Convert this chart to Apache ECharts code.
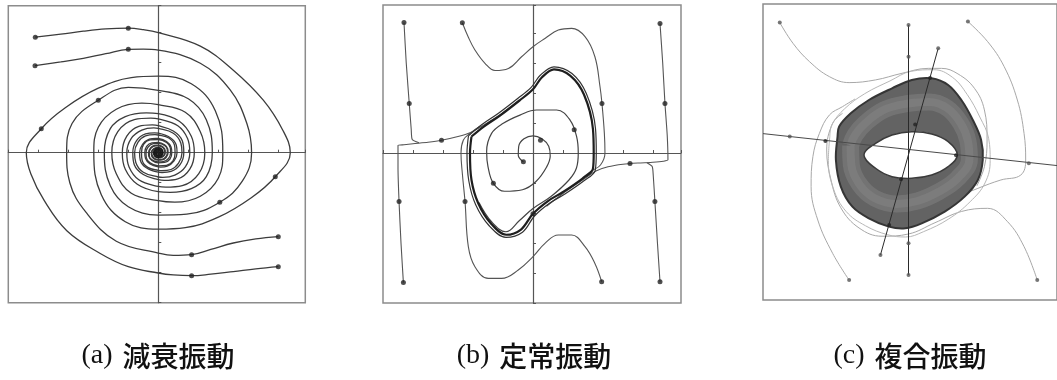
<!DOCTYPE html>
<html>
<head>
<meta charset="utf-8">
<script src="https://cdn.jsdelivr.net/npm/echarts@6/dist/echarts.min.js"></script>
<style>
html,body{margin:0;padding:0;background:#fff;}
#chart{width:1057px;height:380px;}
</style>
</head>
<body>
<div id="chart"></div>
<script>
// ---------- (a) damped oscillation: four trajectories spiralling into a stable focus
const dampedT1 = [[-8.2,7.7],[-6.5,7.9],[-5.0,8.1],[-3.5,8.25],[-2.0,8.3],[-1.0,8.2],[0,8.0],[2.8,7.1],[5.0,5.5],[7.0,3.5],[8.3,1.5],[8.8,0],[7.8,-1.6],[6.2,-3.0],[4.0,-4.3],[1.8,-5.0],[0,-5.1],[-2.2,-4.6],[-3.8,-2.8],[-4.3,0],[-4.0,1.7],[-2.8,2.9],[-1.1,3.3],[0,3.2],[1.8,2.7],[2.8,1.4],[3.1,0],[2.7,-1.4],[1.6,-2.2],[0.5,-2.3],[0,-2.25],[-1.3,-1.8],[-1.95,-0.95],[-2.1,0],[-1.8,0.95],[-1.1,1.5],[-0.3,1.65],[0,1.62],[1.0,1.3],[1.5,0.65],[1.58,0],[1.35,-0.7],[0.85,-1.12],[0.22,-1.2],[0,-1.18],[-0.7,-0.98],[-1.08,-0.5],[-1.12,0],[-0.98,0.55],[-0.55,0.85],[0,0.88],[0.55,0.68],[0.8,0.32],[0.82,0],[0.68,-0.38],[0.33,-0.6],[0,-0.62],[-0.42,-0.48],[-0.6,-0.2],[-0.6,0],[-0.48,0.3],[-0.22,0.45],[0,0.46],[0.32,0.32],[0.44,0],[0.3,-0.24],[0,-0.32],[-0.22,-0.22],[-0.27,0],[-0.17,0.16],[0,0.2],[0.12,0.1],[0.08,-0.05]];
const dampedT2 = [[-8.22,5.8],[-6.5,6.05],[-5.0,6.29],[-3.5,6.6],[-2.0,6.89],[-1.0,6.9],[0,6.84],[2.8,5.96],[4.78,4.2],[5.9,1.96],[6.22,0],[5.6,-1.9],[4.1,-3.3],[1.9,-4.1],[0,-4.16],[-2.0,-3.6],[-3.2,-2.2],[-3.6,0],[-3.2,1.6],[-2.2,2.4],[-0.8,2.65],[0,2.6],[1.4,2.1],[2.2,1.1],[2.4,0],[2.1,-1.1],[1.3,-1.75],[0.4,-1.85],[0,-1.8],[-1.0,-1.45],[-1.6,-0.8],[-1.7,0],[-1.45,0.8],[-0.85,1.25],[-0.25,1.32],[0,1.3],[0.8,1.0],[1.2,0.5],[1.25,0],[1.05,-0.55],[0.6,-0.9],[0.15,-0.96],[0,-0.95],[-0.55,-0.75],[-0.85,-0.38],[-0.9,0],[-0.78,0.42],[-0.42,0.65],[0,0.68],[0.42,0.52],[0.63,0.25],[0.65,0],[0.52,-0.32],[0.25,-0.48],[0,-0.5],[-0.32,-0.38],[-0.46,-0.15],[-0.46,0],[-0.36,0.22],[-0.15,0.34],[0,0.35],[0.22,0.24],[0.3,0],[0.2,-0.18],[0,-0.24],[-0.15,-0.15],[-0.18,0],[-0.1,0.1],[0,0.1]];
const dampedT3 = [[8.0,-5.6],[6.5,-5.75],[5.0,-6.02],[3.5,-6.45],[2.22,-6.8],[1.0,-6.85],[0,-6.69],[-2.8,-5.9],[-4.8,-4.0],[-5.9,-2.0],[-6.11,0],[-5.75,1.95],[-4.0,3.5],[-2.0,4.35],[0,4.16],[2.0,3.6],[3.2,2.2],[3.6,0],[3.2,-1.6],[2.2,-2.4],[0.8,-2.65],[0,-2.6],[-1.4,-2.1],[-2.2,-1.1],[-2.4,0],[-2.1,1.1],[-1.3,1.75],[-0.4,1.85],[0,1.8],[1.0,1.45],[1.6,0.8],[1.7,0],[1.45,-0.8],[0.85,-1.25],[0.25,-1.32],[0,-1.3],[-0.8,-1.0],[-1.2,-0.5],[-1.25,0],[-1.05,0.55],[-0.6,0.9],[-0.15,0.96],[0,0.95],[0.55,0.75],[0.85,0.38],[0.9,0],[0.78,-0.42],[0.42,-0.65],[0,-0.68],[-0.42,-0.52],[-0.63,-0.25],[-0.65,0],[-0.52,0.32],[-0.25,0.48],[0,0.5],[0.32,0.38],[0.46,0.15],[0.46,0],[0.36,-0.22],[0.15,-0.34],[0,-0.35],[-0.22,-0.24],[-0.3,0],[-0.2,0.18],[0,0.24],[0.15,0.15],[0.18,0],[0.1,-0.1],[0,-0.1]];
const dampedT4 = [[8.0,-7.6],[6.5,-7.75],[5.0,-7.93],[3.5,-8.1],[2.22,-8.2],[1.0,-8.15],[0,-8.02],[-2.0,-7.6],[-3.9,-6.7],[-6.1,-5.2],[-7.6,-3.2],[-8.5,-1.4],[-8.8,0],[-7.8,1.6],[-6.2,3.0],[-4.0,4.3],[-1.8,5.0],[0,5.1],[2.2,4.6],[3.8,2.8],[4.3,0],[4.0,-1.7],[2.8,-2.9],[1.1,-3.3],[0,-3.2],[-1.8,-2.7],[-2.8,-1.4],[-3.1,0],[-2.7,1.4],[-1.6,2.2],[-0.5,2.3],[0,2.25],[1.3,1.8],[1.95,0.95],[2.1,0],[1.8,-0.95],[1.1,-1.5],[0.3,-1.65],[0,-1.62],[-1.0,-1.3],[-1.5,-0.65],[-1.58,0],[-1.35,0.7],[-0.85,1.12],[-0.22,1.2],[0,1.18],[0.7,0.98],[1.08,0.5],[1.12,0],[0.98,-0.55],[0.55,-0.85],[0,-0.88],[-0.55,-0.68],[-0.8,-0.32],[-0.82,0],[-0.68,0.38],[-0.33,0.6],[0,0.62],[0.42,0.48],[0.6,0.2],[0.6,0],[0.48,-0.3],[0.22,-0.45],[0,-0.46],[-0.32,-0.32],[-0.44,0],[-0.3,0.24],[0,0.32],[0.22,0.22],[0.27,0],[0.17,-0.16],[0,-0.2],[-0.12,-0.1],[-0.08,0.05]];
const dampedMarks = [[-8.2,7.7],[-8.22,5.8],[8.0,-5.6],[8.0,-7.6],[-2.0,8.3],[-2.0,6.89],[2.22,-6.8],[2.22,-8.2],[-7.8,1.6],[-4.0,3.5],[7.8,-1.6],[4.1,-3.3]];
const dampedFocus = [[0,0]];

// ---------- (b) steady oscillation: limit cycle with trajectories from inside and outside
const limitCycle = [[-4.1,1.1],[-4.2,0],[-4.1,-1.8],[-3.65,-3.35],[-2.8,-4.7],[-1.78,-5.45],[-0.8,-5.1],[0,-4.05],[1.0,-3.2],[2.0,-2.6],[3.3,-1.7],[4.0,-1.05],[4.05,0],[4.0,1.6],[3.4,3.9],[2.5,5.15],[1.4,5.58],[0.6,5.05],[0,4.25],[-0.9,3.5],[-2.2,2.5],[-3.3,1.75],[-4.1,1.1]];
const limitCycleOuter = [[-4.3,1.15],[-4.4,0],[-4.28,-1.85],[-3.82,-3.45],[-2.92,-4.85],[-1.8,-5.62],[-0.7,-5.28],[0.1,-4.2],[1.1,-3.35],[2.1,-2.75],[3.4,-1.85],[4.15,-1.15],[4.22,0],[4.17,1.62],[3.55,3.98],[2.6,5.3],[1.4,5.75],[0.5,5.2],[-0.12,4.38],[-1.0,3.65],[-2.3,2.65],[-3.4,1.9],[-4.3,1.15]];
const steadyInner = [[-0.64,-0.58],[-0.98,-0.15],[-0.95,0.45],[-0.6,0.95],[0,1.15],[0.6,0.95],[1.05,0.45],[1.15,-0.2],[0.9,-0.95],[0.2,-1.9],[-0.7,-2.45],[-1.9,-2.55],[-2.64,-2.02],[-3.0,-0.9],[-3.09,0.1],[-2.76,1.31],[-1.98,1.98],[-0.87,2.53],[0.24,2.87],[1.58,2.87],[2.47,2.2],[2.91,1.09],[3.02,0],[2.9,-1.0],[2.4,-1.8],[1.2,-2.9],[0,-3.7],[-0.9,-4.5],[-1.8,-5.25],[-2.75,-4.6],[-3.6,-3.3]];
const steadyTopLeft = [[-8.6,8.7],[-8.45,6.0],[-8.25,3.3],[-8.12,1.6],[-8.05,0.9],[-7.6,0.68]];
const steadyBottomLeft = [[-8.64,-8.64],[-8.8,-6.0],[-8.93,-3.24],[-9.0,-1.0],[-9.0,0.5],[-8.6,0.55],[-8.0,0.62],[-7.0,0.72],[-6.1,0.85],[-5.0,1.1],[-4.2,1.35],[-3.3,1.85],[-2.2,2.55],[-0.9,3.55]];
const steadyTopRight = [[8.47,8.64],[8.65,6.0],[8.8,3.31],[8.95,1.2],[9.0,-0.45],[8.69,-0.55],[8.0,-0.62],[7.0,-0.67],[6.0,-0.75],[5.0,-0.92],[4.2,-1.2],[3.3,-1.8],[2.2,-2.55],[0.9,-3.55]];
const steadyBottomRight = [[8.47,-8.58],[8.3,-6.0],[8.13,-3.24],[8.02,-1.5],[7.95,-0.9],[7.6,-0.65]];
const steadyUpperS = [[-4.71,8.69],[-4.3,7.7],[-3.87,6.87],[-3.2,5.98],[-2.53,5.5],[-1.64,5.64],[-0.76,6.42],[0,7.09],[0.8,7.64],[1.69,8.2],[2.58,8.31],[3.47,7.76],[4.13,6.42],[4.47,4.42],[4.6,3.31],[4.76,1.31],[4.8,0],[4.5,-0.8],[3.9,-1.2],[3.3,-1.65]];
const steadyLowerS = [[4.58,-8.58],[4.13,-7.36],[3.47,-6.24],[2.58,-5.47],[1.69,-5.47],[0.8,-6.02],[0,-6.91],[-0.98,-7.8],[-2.09,-8.36],[-2.98,-8.36],[-3.87,-7.58],[-4.31,-6.24],[-4.53,-3.24],[-4.71,-1.36],[-4.8,0],[-4.64,0.87],[-4.2,1.31],[-3.5,1.8]];
const steadyMarks = [[-8.6,8.7],[-4.71,8.69],[8.47,8.64],[-8.64,-8.64],[4.58,-8.58],[8.47,-8.58],[-8.25,3.3],[-8.93,-3.24],[-6.1,0.85],[8.8,3.31],[8.13,-3.24],[6.47,-0.7],[4.6,3.31],[-4.53,-3.24],[-0.64,-0.58],[0.5,0.85],[2.75,1.55],[-2.64,-2.02],[0,-4.05]];

// ---------- (c) compound oscillation: trajectories winding onto a torus
const torusOuter = [[-4.78,0.89],[-4.89,-0.67],[-4.56,-2.44],[-3.78,-3.78],[-2.67,-4.56],[-1.33,-5.11],[-0.22,-5.22],[0.89,-4.89],[2.44,-4.11],[3.78,-3.11],[4.67,-2.0],[5.0,-0.67],[4.89,0.67],[4.33,2.0],[3.56,3.33],[2.67,4.33],[1.56,4.78],[0.22,4.67],[-1.11,4.11],[-2.67,3.33],[-3.89,2.44],[-4.67,1.56]];
const torusInner = [[-3.0,-0.33],[-2.22,0.44],[-1.11,1.0],[0.22,1.22],[1.56,1.07],[2.67,0.56],[3.29,-0.33],[2.67,-1.11],[1.56,-1.67],[0.22,-1.89],[-1.11,-1.78],[-2.22,-1.22]];
const torusSheen = [[-3.9,0.3],[-3.85,-1.0],[-3.3,-2.3],[-2.3,-3.2],[-0.8,-3.6],[0.6,-3.4],[2.0,-2.8],[3.3,-1.9],[4.1,-0.6],[4.0,0.6],[3.5,1.8],[2.6,2.8],[1.4,3.2],[0,3.1],[-1.6,2.7],[-2.9,1.8],[-3.6,1.0],[-3.9,0.3]];
const torusWrap = [[-5.3,0.9],[-5.4,-0.7],[-5.05,-2.6],[-4.2,-4.1],[-2.9,-5.05],[-1.4,-5.65],[-0.2,-5.8],[1.0,-5.45],[2.7,-4.6],[4.15,-3.45],[5.15,-2.2],[5.5,-0.7],[5.4,0.75],[4.8,2.2],[3.95,3.7],[2.95,4.85],[1.7,5.35],[0.2,5.25],[-1.25,4.6],[-2.95,3.75],[-4.3,2.75],[-5.15,1.7],[-5.3,0.9]];
const compoundTopLeft = [[-8.67,8.49],[-7.78,7.11],[-6.67,5.89],[-5.33,4.89],[-4.0,4.49],[-2.22,4.67],[-0.44,5.11],[1.33,5.44],[2.22,5.44],[3.33,5.07],[4.44,4.11],[5.11,2.67],[5.29,0.67],[5.11,-1.11],[4.6,-2.4]];
const compoundTopRight = [[4.0,8.56],[5.33,7.22],[6.44,5.56],[7.33,3.33],[7.78,1.11],[7.89,-0.67],[7.56,-1.67],[6.22,-2.0],[4.67,-2.56],[2.89,-3.33],[1.5,-4.3]];
const compoundBottomLeft = [[-4.0,-8.67],[-5.11,-6.89],[-6.11,-4.67],[-6.56,-2.44],[-6.44,-0.44],[-6.0,1.11],[-5.33,2.33],[-4.44,2.89],[-3.6,3.4]];
const compoundBottomRight = [[8.67,-8.67],[7.78,-6.44],[6.67,-4.78],[5.33,-3.89],[3.56,-4.1],[1.78,-4.85],[0,-5.6],[-1.78,-5.75],[-3.33,-5.2],[-4.56,-3.85],[-5.22,-2.0],[-5.51,0],[-5.11,1.78],[-4.44,2.44]];
const compoundAxisV = [[0,8.33],[0,-8.33]];
const compoundAxisH = [[-9.8,1.09],[10,-1.04]];
const compoundAxisS = [[-1.89,-7.0],[2.0,6.78]];
const compoundMarks = [[-8.67,8.49],[4.0,8.56],[-4.0,-8.67],[8.67,-8.67],[0,8.33],[0,6.22],[0,-6.22],[0,-8.33],[-8.0,0.89],[8.1,-0.89],[2.0,6.78],[-1.89,-7.0]];
const compoundEdgeMarks = [[0.45,1.7],[-0.5,-1.95],[-1.3,-5.0],[1.45,4.8],[3.2,-0.35],[-5.6,0.6]];

// ---------- captions
const captionTags = ['(a)', '(b)', '(c)'];
const captionNames = ['減衰振動', '定常振動', '複合振動'];
const captionX = [158, 534, 910];

function curve(data, gi, color, width, smooth, z) {
  return {
    type: 'line', xAxisIndex: gi, yAxisIndex: gi, data: data,
    showSymbol: false, smooth: smooth, z: z || 2, silent: true,
    lineStyle: { color: color, width: width }
  };
}
function marks(data, gi, size, color, z) {
  return {
    type: 'scatter', xAxisIndex: gi, yAxisIndex: gi, data: data,
    symbolSize: size, z: z || 6, silent: true,
    itemStyle: { color: color }
  };
}
function axisPair(min, max, showLine) {
  return {
    type: 'value', min: min, max: max, interval: 2,
    axisLine: { show: showLine, onZero: true, lineStyle: { color: '#555', width: 1.2 } },
    axisTick: { show: showLine, length: 3, inside: true, lineStyle: { color: '#555' } },
    axisLabel: { show: false }, splitLine: { show: false }
  };
}

const gridBox = { show: true, borderColor: '#8c8c8c', borderWidth: 1.5, backgroundColor: 'transparent' };

const option = {
  animation: false,
  backgroundColor: '#ffffff',
  grid: [
    Object.assign({ left: 8.3, top: 5.7, width: 297, height: 297 }, gridBox),
    Object.assign({ left: 383, top: 5, width: 298, height: 298 }, gridBox),
    Object.assign({ left: 763, top: 4, width: 297, height: 296 }, gridBox)
  ],
  xAxis: [
    Object.assign({ gridIndex: 0 }, axisPair(-10, 9.8, true)),
    Object.assign({ gridIndex: 1 }, axisPair(-10, 9.87, true)),
    Object.assign({ gridIndex: 2 }, axisPair(-9.8, 10, false))
  ],
  yAxis: [
    Object.assign({ gridIndex: 0 }, axisPair(-10, 9.8, true)),
    Object.assign({ gridIndex: 1 }, axisPair(-10, 9.87, true)),
    Object.assign({ gridIndex: 2 }, axisPair(-10, 9.73, false))
  ],
  series: [
    // (a)
    curve(dampedT1, 0, '#3c3c3c', 1.3, 0.4),
    curve(dampedT2, 0, '#3c3c3c', 1.3, 0.4),
    curve(dampedT3, 0, '#3c3c3c', 1.3, 0.4),
    curve(dampedT4, 0, '#3c3c3c', 1.3, 0.4),
    marks(dampedMarks, 0, 5, '#222'),
    marks(dampedFocus, 0, 11, '#111'),
    // (b)
    curve(steadyTopLeft, 1, '#555', 1.1, 0.2),
    curve(steadyBottomLeft, 1, '#555', 1.1, 0.2),
    curve(steadyTopRight, 1, '#555', 1.1, 0.2),
    curve(steadyBottomRight, 1, '#555', 1.1, 0.2),
    curve(steadyUpperS, 1, '#555', 1.1, 0.4),
    curve(steadyLowerS, 1, '#555', 1.1, 0.4),
    curve(steadyInner, 1, '#444', 1.2, 0.4),
    curve(limitCycleOuter, 1, '#333', 1.2, 0.35, 3),
    curve(limitCycle, 1, '#1e1e1e', 2.2, 0.35, 4),
    marks(steadyMarks, 1, 5, '#222'),
    // (c)
    curve(compoundTopLeft, 2, '#a8a8a8', 1, 0.4, 1),
    curve(compoundTopRight, 2, '#a8a8a8', 1, 0.4, 1),
    curve(compoundBottomLeft, 2, '#a8a8a8', 1, 0.4, 1),
    curve(compoundBottomRight, 2, '#a8a8a8', 1, 0.4, 1),
    curve(torusWrap, 2, '#b8b8b8', 1, 0.4, 1),
    {
      type: 'custom', xAxisIndex: 2, yAxisIndex: 2, data: [[0, 0]], z: 3, silent: true,
      renderItem: function (params, api) {
        return { type: 'polygon', shape: { points: torusOuter.map(p => api.coord(p)), smooth: 0.35 },
          style: { fill: '#636363', stroke: '#353535', lineWidth: 2 } };
      }
    },
    curve(torusSheen, 2, 'rgba(135,135,135,0.45)', 17, 0.4, 4),
    curve(torusSheen, 2, 'rgba(150,150,150,0.25)', 8, 0.4, 4),
    {
      type: 'custom', xAxisIndex: 2, yAxisIndex: 2, data: [[0, 0]], z: 5, silent: true,
      renderItem: function (params, api) {
        return { type: 'polygon', shape: { points: torusInner.map(p => api.coord(p)), smooth: 0.4 },
          style: { fill: '#ffffff', stroke: '#3a3a3a', lineWidth: 1.5 } };
      }
    },
    curve(compoundAxisV, 2, '#2a2a2a', 1, false, 8),
    curve(compoundAxisH, 2, '#4a4a4a', 1, false, 8),
    curve(compoundAxisS, 2, '#2a2a2a', 1, false, 8),
    marks(compoundMarks, 2, 4, '#555', 9),
    marks(compoundEdgeMarks, 2, 4, '#222', 9)
  ],
  graphic: captionTags.map((tag, i) => ({
    type: 'text', x: captionX[i], y: 356, z: 10,
    style: {
      text: '{t|' + tag + '}{g|}{n|' + captionNames[i] + '}',
      align: 'center', verticalAlign: 'middle',
      rich: {
        t: { fontFamily: 'Liberation Serif', fontSize: 28, fill: '#111' },
        g: { width: 10 },
        n: { fontFamily: 'Noto Sans CJK JP', fontSize: 28, fontWeight: 500, fill: '#111' }
      }
    }
  }))
};

const chart = echarts.init(document.getElementById('chart'), null, { renderer: 'canvas' });
chart.setOption(option);
</script>
</body>
</html>
